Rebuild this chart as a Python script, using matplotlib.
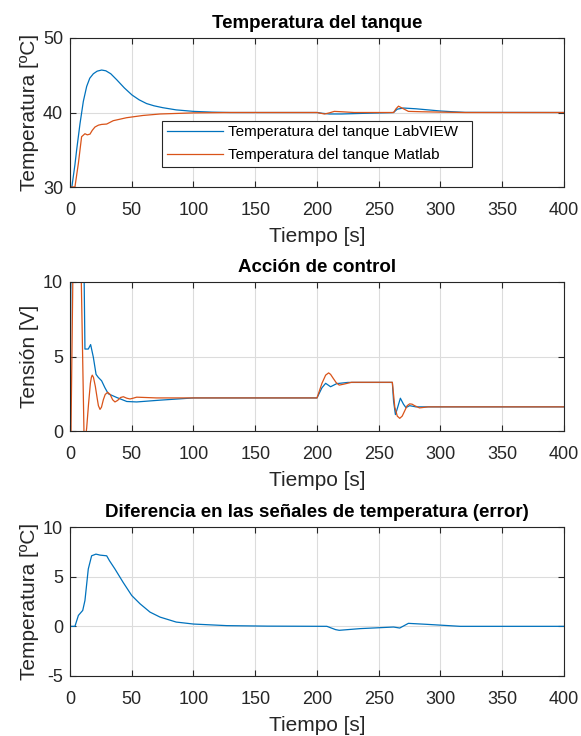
import matplotlib
matplotlib.use("Agg")
import matplotlib.pyplot as plt

# Tank temperature, LabVIEW (blue)
t_temp_lv = [0, 1.5, 4, 5.4, 8.1, 10.8, 13.5, 16, 18.9, 22, 25.6, 29, 33, 37.8, 44, 50.2, 56, 62, 68, 75, 86,
             100, 115, 130, 200, 204, 210, 220, 230, 245, 260, 262, 265, 270, 280, 290, 300, 310, 320, 400]
temp_lv = [30, 30, 33, 35, 38.5, 41.5, 43.5, 44.6, 45.2, 45.55, 45.7, 45.6, 45.2, 44.4, 43.3, 42.35, 41.7, 41.2,
           40.9, 40.65, 40.35, 40.15, 40.05, 40.0, 40.0, 39.9, 39.8, 39.8, 39.85, 39.92, 39.98, 40.0, 40.45, 40.6,
           40.5, 40.35, 40.2, 40.1, 40.02, 40.0]

# Tank temperature, Matlab (orange)
t_temp_ml = [0, 4, 6.8, 9.4, 12.1, 14, 16.2, 18, 20.2, 23, 25.6, 29.7, 35, 45.8, 59, 72.9, 100, 130, 200, 203,
             206, 210, 214, 220, 230, 262, 264, 266, 270, 274, 285, 300, 320, 400]
temp_ml = [30, 30, 33.2, 36.75, 37.15, 37.0, 37.1, 37.6, 38.05, 38.3, 38.4, 38.45, 38.9, 39.3, 39.6, 39.8, 39.95,
           40.0, 40.0, 39.9, 39.8, 39.95, 40.15, 40.1, 40.0, 40.0, 40.5, 40.85, 40.5, 40.15, 40.1, 40.05, 40.0, 40.0]

# Control action, LabVIEW (blue)
t_ctrl_lv = [0, 1, 10.8, 12.1, 14.8, 16.7, 18.9, 21.1, 22.9, 25.6, 28.3, 31, 37.8, 46, 54, 72.9, 100, 200, 204,
             207, 211, 216, 225, 261, 262, 263.5, 265, 267.5, 270, 272, 275, 280, 400]
ctrl_lv = [0, 15, 15, 5.5, 5.5, 5.8, 4.95, 3.8, 3.6, 3.37, 2.9, 2.5, 2.25, 1.98, 1.95, 2.07, 2.22, 2.22, 2.9,
           3.2, 2.97, 3.18, 3.26, 3.26, 2.0, 1.1, 1.5, 2.2, 1.8, 1.57, 1.7, 1.62, 1.62]

# Control action, Matlab (orange)
t_ctrl_ml = [0, 0.8, 3, 8.1, 11.3, 12.5, 13.5, 15, 16.5, 17.3, 18, 19, 20.5, 22, 23, 24.3, 25.5, 27, 28.5, 30.5,
             32.5, 34.5, 36.4, 38.5, 41, 43.2, 46, 48.6, 51, 54, 70, 200, 204, 207, 209.4, 211, 213, 215.5, 218,
             222, 228, 261, 263, 265, 267, 269, 271, 273, 275, 277, 279, 283, 290, 400]
ctrl_ml = [0, 0, 15, 15, 0, -0.5, 0.2, 1.8, 3.2, 3.6, 3.75, 3.6, 3.0, 2.2, 1.7, 1.45, 1.6, 2.1, 2.45, 2.6,
           2.45, 2.1, 1.95, 2.05, 2.25, 2.3, 2.2, 2.15, 2.2, 2.27, 2.22, 2.22, 3.2, 3.75, 3.9, 3.8, 3.55, 3.25, 3.08,
           3.15, 3.27, 3.27, 1.6, 1.0, 0.85, 1.0, 1.35, 1.7, 1.82, 1.8, 1.7, 1.55, 1.62, 1.62]

# Temperature difference (error)
t_err = [0, 4, 6.8, 10.3, 12.1, 14.8, 17.5, 21, 24.3, 29.7, 32, 36.4, 43, 50, 56.7, 64.8, 72.9, 86, 100, 127,
         160, 208, 215, 218, 235, 262, 267, 274, 289, 316, 400]
err = [0, 0, 1.1, 1.6, 2.6, 5.77, 7.1, 7.27, 7.17, 7.1, 6.6, 5.77, 4.43, 3.1, 2.27, 1.43, 0.93, 0.43, 0.23, 0.07,
       0.02, 0, -0.33, -0.4, -0.23, -0.07, -0.17, 0.3, 0.2, 0.0, 0.0]

x_ticks = list(range(0, 401, 50))
BLUE = "#0072BD"
ORANGE = "#D95319"
DARK = "#262626"

plt.rcParams["font.family"] = "sans-serif"
plt.rcParams["font.sans-serif"] = ["Liberation Sans", "DejaVu Sans"]
plt.rcParams["axes.unicode_minus"] = False

fig = plt.figure(figsize=(5.81, 7.36), dpi=100)
W, H = 581, 736


def make_axes(top, bottom):
    return fig.add_axes([70 / W, 1 - bottom / H, 494 / W, (bottom - top) / H])


def style(ax, title, ylabel, yticks):
    ax.set_xlim(0, 400)
    ax.set_ylim(yticks[0], yticks[-1])
    ax.set_xticks(x_ticks)
    ax.set_yticks(yticks)
    ax.grid(True, color="#dcdcdc", linewidth=0.8)
    ax.set_axisbelow(True)
    ax.tick_params(direction="in", top=True, right=True, labelsize=13, colors=DARK, length=4, width=0.8)
    ax.tick_params(axis="x", pad=10.5)
    ax.tick_params(axis="y", pad=5)
    for sp in ax.spines.values():
        sp.set_color(DARK)
        sp.set_linewidth(0.8)
    ax.set_title(title, fontsize=13.5, fontweight="bold", color="black", pad=7)
    ax.set_xlabel("Tiempo [s]", fontsize=15, color=DARK, labelpad=6)
    ax.set_ylabel(ylabel, fontsize=15, color=DARK, labelpad=3)


ax1 = make_axes(38, 187)
ax1.plot(t_temp_lv, temp_lv, color=BLUE, linewidth=0.9, label="Temperatura del tanque LabVIEW")
ax1.plot(t_temp_ml, temp_ml, color=ORANGE, linewidth=0.9, label="Temperatura del tanque Matlab")
style(ax1, "Temperatura del tanque", "Temperatura [ºC]", [30, 40, 50])
leg = ax1.legend(loc="lower left", bbox_to_anchor=(92 / 494, 20 / 149, 310 / 494, 49 / 149), mode="expand",
                 prop={"family": "Liberation Sans", "size": 11}, fancybox=False, framealpha=1, edgecolor=DARK,
                 borderpad=0.3, handlelength=3.7, handletextpad=0.35, borderaxespad=0, labelspacing=0.6)
leg.get_frame().set_linewidth(0.8)

ax2 = make_axes(282, 431)
ax2.plot(t_ctrl_lv, ctrl_lv, color=BLUE, linewidth=0.9)
ax2.plot(t_ctrl_ml, ctrl_ml, color=ORANGE, linewidth=0.9)
style(ax2, "Acción de control", "Tensión [V]", [0, 5, 10])

ax3 = make_axes(527, 676)
ax3.plot(t_err, err, color=BLUE, linewidth=0.9)
style(ax3, "Diferencia en las señales de temperatura (error)", "Temperatura [ºC]", [-5, 0, 5, 10])

fig.savefig("out.png", dpi=100)
